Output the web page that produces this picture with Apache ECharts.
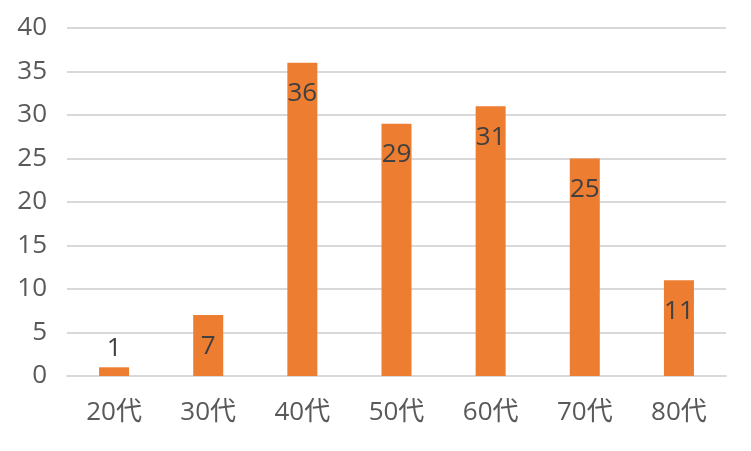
<!DOCTYPE html>
<html>
<head>
<meta charset="utf-8">
<script src="https://cdn.jsdelivr.net/npm/echarts@6/dist/echarts.min.js"></script>
<style>
  html, body { margin: 0; padding: 0; background: #fff; }
  #chart { width: 751px; height: 451px; }
</style>
</head>
<body>
<div id="chart"></div>
<script>
// 年代別の人数
const categories = ['20代', '30代', '40代', '50代', '60代', '70代', '80代']
const values = [1, 7, 36, 29, 31, 25, 11]
const yTicks = [0, 5, 10, 15, 20, 25, 30, 35, 40]

const font = '"Open Sans", "Noto Sans CJK JP", sans-serif'

// 小さい棒はラベルを棒の上に出す
const barData = values.map(v => {
  if (v < 3) {
    return { value: v, label: { position: 'top', distance: 6 } }
  }
  return v
})

const myChart = echarts.init(document.getElementById('chart'))
myChart.setOption({
  animation: false,
  grid: {
    left: 67,
    right: 25,
    top: 28,
    bottom: 75,
    containLabel: false,
    outerBoundsMode: 'none'
  },
  xAxis: {
    type: 'category',
    data: categories,
    axisTick: { show: false },
    axisLine: { lineStyle: { color: '#d9d9d9', width: 2 } },
    axisLabel: { color: '#595959', fontSize: 26, fontFamily: font, margin: 24 }
  },
  yAxis: {
    type: 'value',
    min: yTicks[0],
    max: yTicks[yTicks.length - 1],
    interval: yTicks[1] - yTicks[0],
    axisLine: { show: false },
    axisTick: { show: false },
    splitLine: { lineStyle: { color: '#d9d9d9', width: 2 } },
    axisLabel: { color: '#595959', fontSize: 26, fontFamily: font, margin: 20 }
  },
  series: [{
    type: 'bar',
    data: barData,
    barWidth: 30,
    itemStyle: { color: '#ed7d31' },
    label: {
      show: true,
      position: 'insideTop',
      distance: 18,
      color: '#404040',
      fontSize: 26,
      fontFamily: font
    }
  }]
})
</script>
</body>
</html>
